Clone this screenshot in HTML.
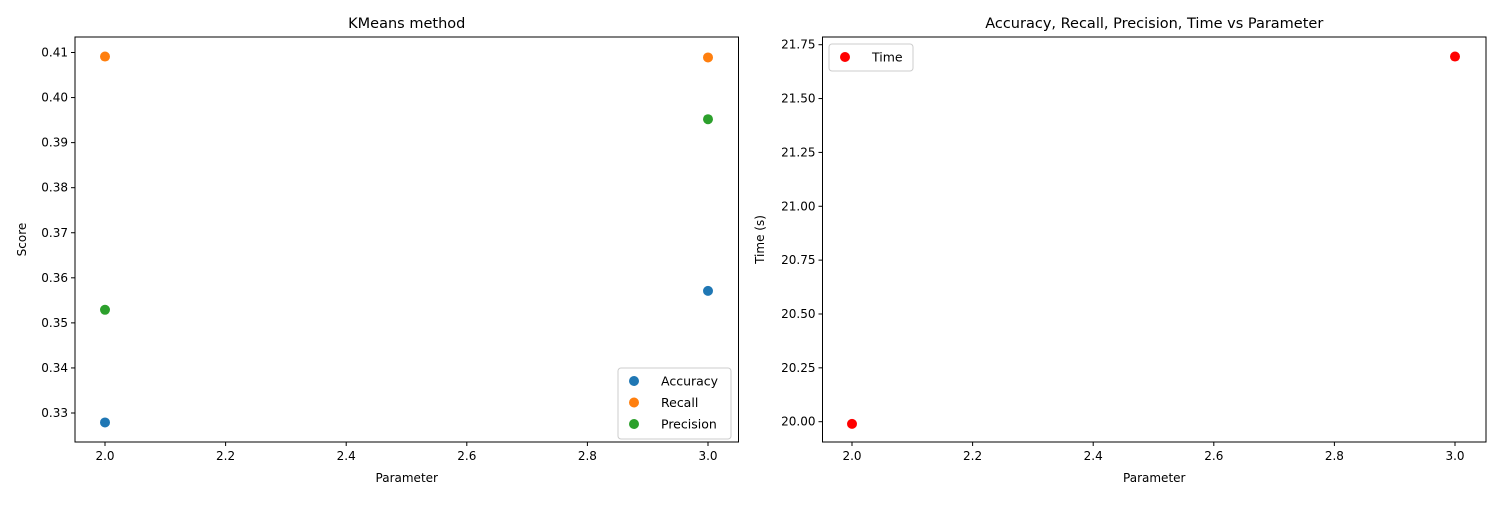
<!DOCTYPE html>
<html><head><meta charset="utf-8"><style>
body{margin:0;background:#fff}
svg text{font-family:"DejaVu Sans","Liberation Sans",sans-serif;fill:#000}
</style></head><body>
<svg id="c" width="1500" height="500" xmlns="http://www.w3.org/2000/svg"></svg>
<script>
const params=[2.0,3.0];
const accuracy=[0.3279,0.3571];
const recall=[0.4091,0.4089];
const precision=[0.3529,0.3952];
const timeVals=[19.99,21.695];
const xTicks=[2.0,2.2,2.4,2.6,2.8,3.0];
const leftYTicks=[0.33,0.34,0.35,0.36,0.37,0.38,0.39,0.40,0.41];
const rightYTicks=[20.00,20.25,20.50,20.75,21.00,21.25,21.50,21.75];
const svg=document.getElementById('c');
const NS='http://www.w3.org/2000/svg';
function mk(t,a,p){const e=document.createElementNS(NS,t);for(const k in a)e.setAttribute(k,a[k]);(p||svg).appendChild(e);return e;}
function lin(d0,d1,r0,r1){return v=>r0+(v-d0)*(r1-r0)/(d1-d0);}
function axes(name,L,T,R,B,xs,ys,yt,yfmt,title,ylab){
  const g=mk('g',{});
  
  
  mk('rect',{x:L,y:T,width:R-L,height:B-T,fill:'none',stroke:'#000','stroke-width':1},g);
  xTicks.forEach(v=>{const x=xs(v);
    const l=mk('line',{x1:x,x2:x,y1:B,y2:B+4,stroke:'#000'},g);
    
    const t=mk('text',{x:x,y:B+18,'text-anchor':'middle','font-size':12},g);t.textContent=v.toFixed(1);
    });
  yt.forEach(v=>{const y=ys(v);
    const l=mk('line',{x1:L-4,x2:L,y1:y,y2:y,stroke:'#000'},g);
    
    const t=mk('text',{x:L-7,y:y+4,'text-anchor':'end','font-size':12},g);t.textContent=v.toFixed(yfmt);
    });
  const tt=mk('text',{x:(L+R)/2,y:T-9,'text-anchor':'middle','font-size':14.5},g);tt.textContent=title;
  
  const xl=mk('text',{x:(L+R)/2,y:B+40,'text-anchor':'middle','font-size':12},g);xl.textContent='Parameter';
  
  const yx=name==='left-axes'?26:764;
  const yl=mk('text',{x:yx,y:(T+B)/2,'text-anchor':'middle','font-size':12,transform:`rotate(-90 ${yx} ${(T+B)/2})`},g);yl.textContent=ylab;
  
  return g;
}
function dots(g,xs,ys,vals,col,nm){params.forEach((p,i)=>{const c=mk('circle',{cx:xs(p),cy:ys(vals[i]),r:5,fill:col},g);
  });}
// left
const xL=lin(2,3,105,708), yL=lin(0.33,0.41,413,52.5);
const gL=axes('left-axes',75,37,738.5,442,xL,yL,leftYTicks,2,'KMeans method','Score');
dots(gL,xL,yL,accuracy,'#1f77b4','accuracy');
dots(gL,xL,yL,recall,'#ff7f0e','recall');
dots(gL,xL,yL,precision,'#2ca02c','precision');
// right
const xR=lin(2,3,852,1455), yR=lin(20,21.75,421.7,44.7);
const gR=axes('right-axes',822.5,37,1486,442,xR,yR,rightYTicks,2,'Accuracy, Recall, Precision, Time vs Parameter','Time (s)');
dots(gR,xR,yR,timeVals,'#ff0000','time');
// legends
function legend(x,y,w,entries,nm){const g=mk('g',{});
  
  mk('rect',{x:x,y:y,width:w,height:entries.length*22+5,rx:3,fill:'#fff','fill-opacity':0.8,stroke:'#ccc'},g);
  entries.forEach((e,i)=>{const cy=y+13+i*21.5;
    mk('circle',{cx:x+16,cy:cy,r:5,fill:e[1]},g);
    const t=mk('text',{x:x+43,y:cy+4.5,'font-size':12.5},g);t.textContent=e[0];
    });}
legend(618,368,113,[['Accuracy','#1f77b4'],['Recall','#ff7f0e'],['Precision','#2ca02c']],'left-legend');
legend(829,44,84,[['Time','#ff0000']],'right-legend');
</script>
</body></html>
